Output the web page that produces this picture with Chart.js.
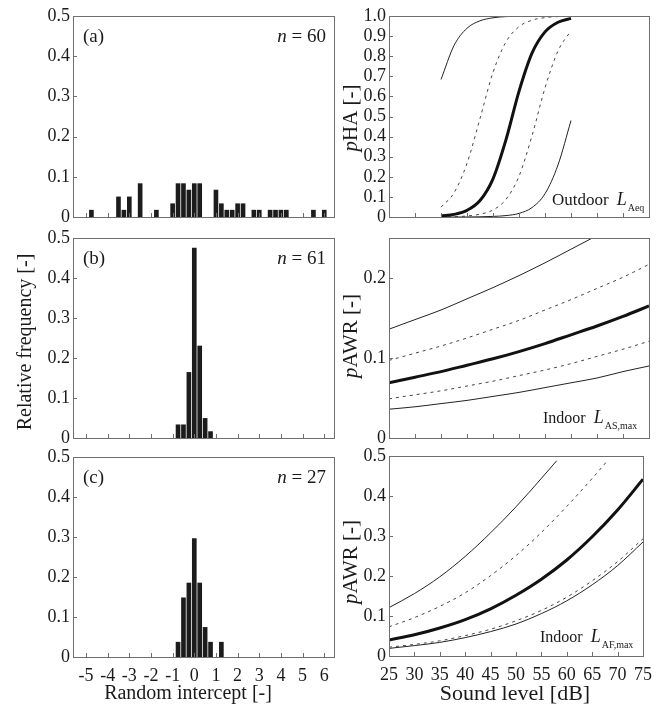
<!DOCTYPE html>
<html>
<head>
<meta charset="utf-8">
<script src="https://cdn.jsdelivr.net/npm/chart.js@4.4.0/dist/chart.umd.min.js"></script>
<style>
  body { margin: 0; background: #fff; }
  #wrap { position: relative; width: 660px; height: 708px; }
  #wrap canvas { position: absolute; left: 0; top: 0; }
</style>
</head>
<body>
<div id="wrap">
  <canvas id="histA" width="660" height="708"></canvas>
  <canvas id="histB" width="660" height="708"></canvas>
  <canvas id="histC" width="660" height="708"></canvas>
  <canvas id="curveA" width="660" height="708"></canvas>
  <canvas id="curveB" width="660" height="708"></canvas>
  <canvas id="curveC" width="660" height="708"></canvas>
</div>
<script>
// --- histogram data (random intercepts, bin width 0.25) ---
const interceptA = [-4.75, -3.5, -3.25, -3, -2.5, -1.75, -1, -0.75, -0.5, -0.25, 0, 0.25, 1, 1.25, 1.5, 1.75, 2, 2.25, 2.75, 3, 3.5, 3.75, 4, 4.25, 5.5, 6];
const freqA = [0.017, 0.05, 0.017, 0.05, 0.083, 0.017, 0.033, 0.083, 0.083, 0.067, 0.083, 0.083, 0.067, 0.033, 0.017, 0.017, 0.033, 0.033, 0.017, 0.017, 0.017, 0.017, 0.017, 0.017, 0.017, 0.017];
const interceptB = [-0.75, -0.5, -0.25, 0, 0.25, 0.5, 0.75];
const freqB = [0.033, 0.033, 0.164, 0.475, 0.23, 0.049, 0.016];
const interceptC = [-0.75, -0.5, -0.25, 0, 0.25, 0.5, 0.75, 1.25];
const freqC = [0.037, 0.148, 0.185, 0.296, 0.185, 0.074, 0.037, 0.037];

// --- pHA vs outdoor LAeq ---
const levelHA = [35, 37.5, 40, 42.5, 45, 47.5, 50, 52.5, 55, 57.5, 60];
const haMean    = [0.005, 0.013, 0.033, 0.082, 0.19, 0.385, 0.625, 0.815, 0.921, 0.969, 0.988];
const haUpper   = [0.049, 0.12, 0.267, 0.49, 0.719, 0.871, 0.947, 0.979, 0.992, 0.997, 0.999];
const haLower   = [0.001, 0.002, 0.005, 0.014, 0.035, 0.088, 0.203, 0.404, 0.642, 0.826, 0.927];
const haUpper95 = [0.684, 0.853, 0.939, 0.976, 0.991, 0.997, 0.999, 1, 1, 1, 1];
const haLower95 = [0, 0, 0, 0.001, 0.003, 0.007, 0.018, 0.047, 0.116, 0.259, 0.48];

// --- pAWR vs indoor LAS,max ---
const levelAS = [25, 30, 35, 40, 45, 50, 55, 60, 65, 70, 75];
const asMean    = [0.069, 0.076, 0.083, 0.091, 0.099, 0.108, 0.118, 0.129, 0.14, 0.152, 0.165];
const asUpper   = [0.097, 0.106, 0.115, 0.125, 0.136, 0.147, 0.16, 0.173, 0.187, 0.201, 0.217];
const asLower   = [0.049, 0.054, 0.059, 0.065, 0.071, 0.078, 0.085, 0.093, 0.102, 0.111, 0.121];
const asUpper95 = [0.136, 0.148, 0.16, 0.174, 0.188, 0.203, 0.219, 0.236, 0.253, null, null];
const asLower95 = [0.036, 0.039, 0.043, 0.047, 0.052, 0.057, 0.063, 0.069, 0.075, 0.083, 0.09];

// --- pAWR vs indoor LAF,max ---
const levelAF = [25, 30, 35, 40, 45, 50, 55, 60, 65, 70, 75];
const afMean    = [0.04, 0.053, 0.07, 0.091, 0.118, 0.152, 0.192, 0.24, 0.298, 0.365, 0.442];
const afLower   = [0.022, 0.029, 0.038, 0.051, 0.067, 0.088, 0.114, 0.147, 0.188, 0.236, 0.293];
const afLower95 = [0.019, 0.026, 0.034, 0.046, 0.061, 0.08, 0.106, 0.138, 0.178, 0.226, 0.285];
const levelAFUpper = [25, 30, 35, 40, 45, 50, 55, 60, 65, 68];
const afUpper   = [0.073, 0.096, 0.124, 0.158, 0.201, 0.251, 0.309, 0.374, 0.444, 0.488];
const levelAFUpper95 = [25, 30, 35, 40, 45, 50, 55, 58];
const afUpper95 = [0.121, 0.156, 0.198, 0.249, 0.308, 0.373, 0.444, 0.488];

const FONT = "'Liberation Serif', 'Times New Roman', serif";
const INK = '#1a1a1a';
const W = 660, H = 708, YW = 40, XH = 40;

function pairs(xs, ys) {
  return xs.map((x, i) => ({ x, y: ys[i] }));
}

function fmt(v) {
  return Math.abs(v) < 1e-9 ? '0' : v.toFixed(1);
}

// padding so that the plot area lands on (l,t)-(r,b) of the page
function place(l, t, r, b) {
  return { padding: { left: l - YW, top: t, right: W - r, bottom: H - b - XH } };
}

function drawRotated(ctx, parts, x, cy, size) {
  ctx.save();
  ctx.translate(x, cy);
  ctx.rotate(-Math.PI / 2);
  ctx.textBaseline = 'alphabetic';
  ctx.textAlign = 'left';
  let total = 0;
  parts.forEach(p => { ctx.font = `${p.it ? 'italic ' : ''}${size}px ${FONT}`; total += ctx.measureText(p.t).width; });
  let pos = -total / 2;
  parts.forEach(p => {
    ctx.font = `${p.it ? 'italic ' : ''}${size}px ${FONT}`;
    ctx.fillText(p.t, pos, 0);
    pos += ctx.measureText(p.t).width;
  });
  ctx.restore();
}

function panelDeco(opt) {
  return {
    id: 'deco',
    afterDraw(chart) {
      const { ctx, chartArea: a, scales } = chart;
      ctx.save();
      ctx.strokeStyle = '#6f6f6f';
      ctx.lineWidth = 1;
      ctx.beginPath();
      scales.x.ticks.forEach(t => {
        const px = Math.round(scales.x.getPixelForValue(t.value)) + 0.5;
        ctx.moveTo(px, a.bottom); ctx.lineTo(px, a.bottom - 4);
      });
      scales.y.ticks.forEach(t => {
        const py = Math.round(scales.y.getPixelForValue(t.value)) + 0.5;
        ctx.moveTo(a.left, py); ctx.lineTo(a.left + 4, py);
      });
      ctx.stroke();
      ctx.strokeRect(a.left + 0.5, a.top + 0.5, a.right - a.left, a.bottom - a.top);

      ctx.fillStyle = INK;
      ctx.textBaseline = 'alphabetic';
      ctx.textAlign = 'left';
      const ty = a.top + 26;
      if (opt.tag) {
        ctx.font = `19px ${FONT}`;
        ctx.fillText(opt.tag, a.left + 10, ty);
      }
      if (opt.n) {
        ctx.font = `19px ${FONT}`;
        const rest = ' = ' + opt.n;
        const wr = ctx.measureText(rest).width;
        const xr = a.right - 8;
        ctx.fillText(rest, xr - wr, ty);
        ctx.font = `italic 19px ${FONT}`;
        ctx.fillText('n', xr - wr - ctx.measureText('n').width, ty);
      }
      if (opt.note) {
        const nt = opt.note;
        let x = nt.x;
        ctx.font = `${nt.size}px ${FONT}`;
        ctx.fillText(nt.word, x, nt.y);
        x += ctx.measureText(nt.word).width + 8;
        ctx.font = `italic 18px ${FONT}`;
        ctx.fillText('L', x, nt.y);
        x += ctx.measureText('L').width + 1;
        ctx.font = `10px ${FONT}`;
        ctx.fillText(nt.sub, x, nt.y + 6);
      }
      if (opt.yTitle) {
        ctx.fillStyle = INK;
        drawRotated(ctx, opt.yTitle.parts, opt.yTitle.x, opt.yTitle.cy, opt.yTitle.size);
      }
      if (opt.xTitle) {
        ctx.textAlign = 'center';
        ctx.font = `${opt.xTitle.size}px ${FONT}`;
        ctx.fillText(opt.xTitle.text, opt.xTitle.cx, opt.xTitle.y);
      }
      ctx.restore();
    }
  };
}

function axes(xMin, xMax, xStep, yMax, yStep, showX) {
  return {
    x: {
      type: 'linear', min: xMin, max: xMax, offset: false,
      grid: { display: false, drawTicks: false }, border: { display: false },
      ticks: { stepSize: xStep, includeBounds: false, autoSkip: false, maxRotation: 0,
               display: showX, padding: 8, color: INK, font: { family: FONT, size: 18 },
               callback: v => String(v) },
      afterFit: s => { s.height = XH; }
    },
    y: {
      type: 'linear', min: 0, max: yMax,
      grid: { display: false, drawTicks: false }, border: { display: false },
      ticks: { stepSize: yStep, includeBounds: false, autoSkip: false, padding: 3,
               color: INK, font: { family: FONT, size: 18 }, callback: v => fmt(v) },
      afterFit: s => { s.width = YW; }
    }
  };
}

const base = {
  responsive: false, animation: false, events: [],
  plugins: { legend: { display: false }, tooltip: { enabled: false } }
};

function histogram(id, xs, ys, rect, deco, showX) {
  new Chart(document.getElementById(id), {
    type: 'bar',
    data: { datasets: [{ data: pairs(xs, ys), backgroundColor: '#1c1c1c', barThickness: 4 }] },
    options: { ...base, layout: place(...rect), scales: axes(-5.6, 6.45, 1, 0.5, 0.1, showX) },
    plugins: [panelDeco(deco)]
  });
}

function line(xs, ys, kind) {
  const style = {
    mean: { borderColor: '#111', borderWidth: 3 },
    ci: { borderColor: '#444', borderWidth: 1, borderDash: [3, 4] },
    pi: { borderColor: '#222', borderWidth: 1 }
  }[kind];
  return { data: pairs(xs, ys), pointRadius: 0, cubicInterpolationMode: 'monotone', fill: false, spanGaps: false, ...style };
}

function curves(id, datasets, yMax, yStep, rect, deco, showX) {
  new Chart(document.getElementById(id), {
    type: 'line',
    data: { datasets },
    options: { ...base, layout: place(...rect), scales: axes(25, 75, 5, yMax, yStep, showX) },
    plugins: [panelDeco(deco)]
  });
}

// left column: random intercept histograms
histogram('histA', interceptA, freqA, [73, 16, 334, 217], { tag: '(a)', n: '60' }, false);
histogram('histB', interceptB, freqB, [73, 238, 334, 438], {
  tag: '(b)', n: '61',
  yTitle: { parts: [{ t: 'Relative frequency [-]' }], x: 31, cy: 342, size: 20 }
}, false);
histogram('histC', interceptC, freqC, [73, 457, 334, 657], {
  tag: '(c)', n: '27',
  xTitle: { text: 'Random intercept [-]', cx: 188, y: 699, size: 20 }
}, true);

// right column: exposure-response curves
curves('curveA', [
  line(levelHA, haUpper95, 'pi'), line(levelHA, haUpper, 'ci'), line(levelHA, haMean, 'mean'),
  line(levelHA, haLower, 'ci'), line(levelHA, haLower95, 'pi')
], 1.0, 0.1, [389, 16, 649, 217], {
  note: { word: 'Outdoor', sub: 'Aeq', x: 552, y: 205, size: 17 },
  yTitle: { parts: [{ t: 'p', it: true }, { t: 'HA [-]' }], x: 357, cy: 118, size: 21 }
}, false);

curves('curveB', [
  line(levelAS, asUpper95, 'pi'), line(levelAS, asUpper, 'ci'), line(levelAS, asMean, 'mean'),
  line(levelAS, asLower, 'ci'), line(levelAS, asLower95, 'pi')
], 0.25, 0.1, [389, 238, 649, 438], {
  note: { word: 'Indoor', sub: 'AS,max', x: 543, y: 423, size: 16 },
  yTitle: { parts: [{ t: 'p', it: true }, { t: 'AWR [-]' }], x: 357, cy: 336, size: 21 }
}, false);

curves('curveC', [
  line(levelAFUpper95, afUpper95, 'pi'), line(levelAFUpper, afUpper, 'ci'), line(levelAF, afMean, 'mean'),
  line(levelAF, afLower, 'ci'), line(levelAF, afLower95, 'pi')
], 0.5, 0.1, [389, 456, 649, 656], {
  note: { word: 'Indoor', sub: 'AF,max', x: 540, y: 642, size: 16 },
  yTitle: { parts: [{ t: 'p', it: true }, { t: 'AWR [-]' }], x: 357, cy: 562, size: 21 },
  xTitle: { text: 'Sound level [dB]', cx: 515, y: 700, size: 22 }
}, true);
</script>
</body>
</html>
